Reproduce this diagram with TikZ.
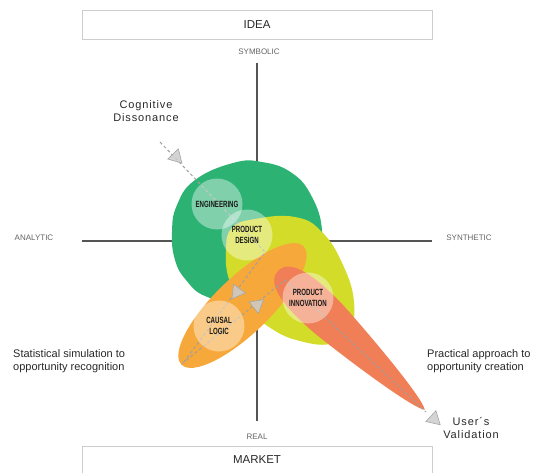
\documentclass[tikz,border=0pt]{standalone}
\usepackage{fontspec}
\setmainfont{Liberation Sans}
\newfontfamily\condfont[FakeStretch=0.68]{Liberation Sans Bold}
\newfontfamily\spacedfont[LetterSpace=8]{Liberation Sans}
\usetikzlibrary{shapes.geometric}
\definecolor{cgreen}{RGB}{44,179,116}
\definecolor{cyellow}{RGB}{212,220,42}
\definecolor{corange}{RGB}{246,168,58}
\definecolor{cred}{RGB}{240,126,86}
\definecolor{caxis}{RGB}{85,85,85}
\definecolor{cbox}{RGB}{205,205,205}
\definecolor{cdash}{RGB}{160,160,160}
\definecolor{ctext}{RGB}{40,40,40}
\definecolor{cbubtext}{RGB}{25,25,25}
\definecolor{clabel}{RGB}{100,100,100}
\tikzset{
  box/.style={draw=cbox, line width=0.9pt, fill=white, minimum width=350pt, inner sep=0pt, font=\fontsize{11.5}{13}\selectfont, text=ctext},
  axisline/.style={draw=caxis, line width=1.8pt},
  axislabel/.style={font=\fontsize{8}{9}\selectfont, text=clabel, inner sep=0pt},
  bubble/.style={circle, fill=white, fill opacity=0.4, text opacity=1, minimum size=51pt, inner sep=0pt, align=center, text=cbubtext, font=\condfont\fontsize{9}{11}\selectfont},
  dashline/.style={draw=cdash, line width=1pt, dash pattern=on 3pt off 2.5pt},
  tri/.style={regular polygon, regular polygon sides=3, minimum size=17pt, inner sep=0pt, fill=black!20, fill opacity=0.85, draw=black!35, line width=0.6pt},
  sidetext/.style={font=\fontsize{11}{13.5}\selectfont, text=ctext, inner sep=0pt, align=left},
  spacedtext/.style={font=\spacedfont\fontsize{11}{13}\selectfont, text=ctext, inner sep=0pt, align=center}
}
\begin{document}
\begin{tikzpicture}[x=1pt, y=-1pt]
\useasboundingbox (0,0) rectangle (541,472);
% boxes
\node[box, minimum height=29pt] (idea) at (257,24.5) {IDEA};
\node[box, minimum height=28pt] (market) at (257,460) {MARKET};
% axes
\coordinate (vtop) at (257,63);
\coordinate (vbot) at (257,421);
\coordinate (hleft) at (82,241);
\coordinate (hright) at (432,241);
\draw[axisline] (vtop) -- (vbot);
\draw[axisline] (hleft) -- (hright);
% axis labels
\node[axislabel] (symbolic) at (259,52) {SYMBOLIC};
\node[axislabel] (analytic) at (34,238) {ANALYTIC};
\node[axislabel] (synthetic) at (469,238) {SYNTHETIC};
\node[axislabel] (real) at (257,437) {REAL};
% green blob
\fill[cgreen] plot[smooth cycle, tension=0.75] coordinates {(233,163) (262,162) (292,173) (312,197) (322,230) (318,262) (285,285) (235,300) (205,296) (186,280) (175,260) (172,232) (177,205) (195,180)};
% yellow blob
\fill[cyellow] plot[smooth cycle, tension=0.75] coordinates {(226,250) (232,228) (255,219) (295,217) (322,232) (343,265) (354,302) (349,332) (330,344) (300,341) (272,329) (248,308) (230,282)};
% orange ellipse
\fill[corange, rotate around={44:(242.5,305.5)}] (242.5,305.5) ellipse [x radius=85, y radius=28];
% red elongated shape
\begin{scope}[shift={(278,271)}, rotate=-43.4]
\fill[cred] (0,0) .. controls (0,-18) and (30,-22) .. (70,-20) .. controls (130,-15) and (195,-6) .. (202,0) .. controls (195,6) and (130,15) .. (70,20) .. controls (30,22) and (0,18) .. (0,0) -- cycle;
\end{scope}
% dashed path
\coordinate (c0) at (160,142);
\coordinate (c1) at (265,252);
\coordinate (c2) at (184,362);
\coordinate (c3) at (285,280);
\coordinate (c4) at (426,412);
\draw[dashline] (c0) -- (c1) -- (c2) -- (c3) -- (c4);
% bubbles
\node[bubble] (eng) at (217,204) {ENGINEERING};
\node[bubble] (pd) at (247,235) {PRODUCT\\DESIGN};
\node[bubble] (pi) at (308,298) {PRODUCT\\INNOVATION};
\node[bubble] (cl) at (219,326) {CAUSAL\\LOGIC};
% triangles
\node[tri, rotate=-136.3] (t1) at (176,157) {};
\node[tri, rotate=143.6] (t2) at (237,292) {};
\node[tri, rotate=-50.9] (t3) at (257,305) {};
\node[tri, rotate=-132.9] (t4) at (434,419) {};
% side texts
\node[spacedtext] (cog) at (146,111) {Cognitive\\Dissonance};
\node[sidetext, anchor=west] (stat) at (13,361) {Statistical simulation to\\opportunity recognition};
\node[sidetext, anchor=west] (prac) at (427,361) {Practical approach to\\opportunity creation};
\node[spacedtext] (user) at (471,428) {User´s\\Validation};
\end{tikzpicture}
\end{document}
